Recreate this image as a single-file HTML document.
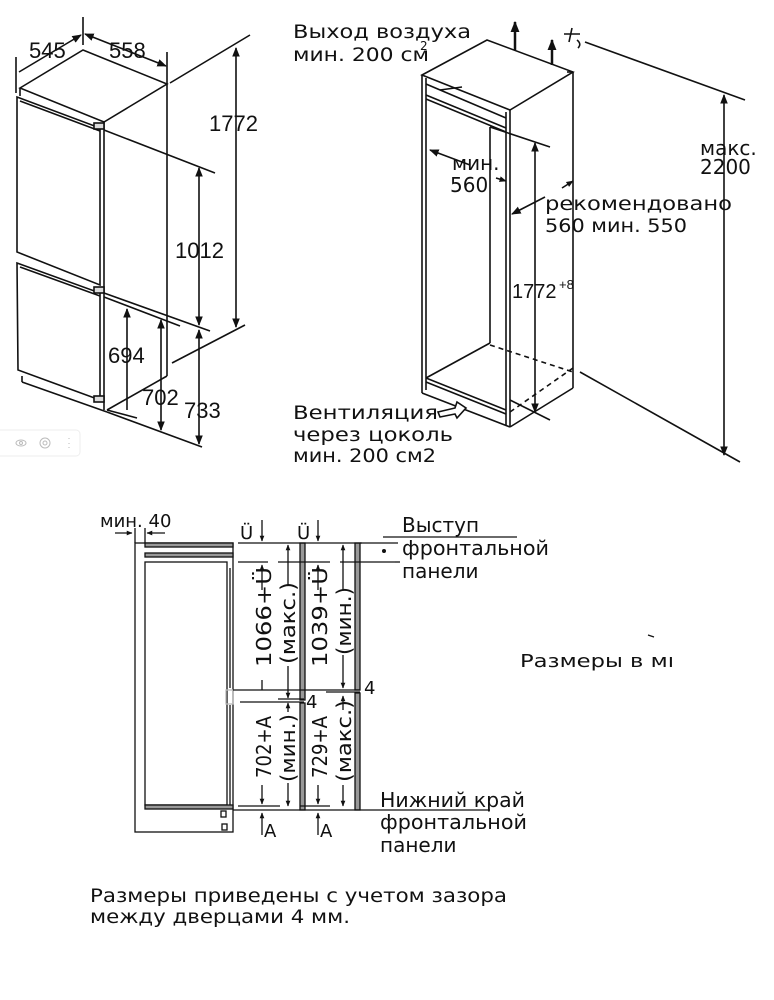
<!DOCTYPE html>
<html><head><meta charset="utf-8"><style>
html,body{margin:0;padding:0;background:#fff;}
svg{display:block;}
.t{font-family:"DejaVu Sans","Liberation Sans",sans-serif;fill:#111;}
.n{font-family:"Liberation Sans",sans-serif;fill:#111;}
</style></head><body>
<svg width="774" height="1000" viewBox="0 0 774 1000" xmlns="http://www.w3.org/2000/svg">
<defs>
<marker id="a" viewBox="0 0 10 10" refX="9" refY="5" markerWidth="6" markerHeight="6" orient="auto-start-reverse"><path d="M0,1 L10,5 L0,9 z" fill="#111"/></marker>
<marker id="s" viewBox="0 0 10 10" refX="9" refY="5" markerWidth="4.5" markerHeight="4.5" orient="auto-start-reverse"><path d="M0,1 L10,5 L0,9 z" fill="#111"/></marker>
</defs>
<g stroke="#111" stroke-width="1.6" fill="none">
<!-- LEFT FRIDGE -->
<line x1="83" y1="17" x2="83" y2="45"/>
<line x1="16" y1="57" x2="16" y2="93"/>
<line x1="167" y1="52" x2="167" y2="84"/>
<line x1="19" y1="72" x2="81" y2="35" marker-end="url(#a)"/>
<line x1="85" y1="34" x2="166" y2="66" marker-end="url(#a)" marker-start="url(#a)"/>
<polygon points="20,88 83,50 167,84 104,122"/>
<line x1="20" y1="88" x2="20" y2="96"/>
<line x1="104" y1="122" x2="104" y2="410"/>
<line x1="167" y1="84" x2="167" y2="376"/>
<line x1="107" y1="410" x2="167" y2="376"/>
<path d="M17,97 L100,128 L100,285 L17,252 Z"/>
<line x1="20" y1="101" x2="100" y2="131"/>
<path d="M17,263 L100,293 L100,400 L18,370 Z"/>
<line x1="20" y1="267" x2="100" y2="296"/>
<line x1="22" y1="376" x2="22" y2="382"/>
<line x1="22" y1="382" x2="107" y2="412"/>
<rect x="94" y="123" width="10" height="6" fill="#ddd"/>
<rect x="94" y="287" width="10" height="6" fill="#ddd"/>
<rect x="94" y="396" width="10" height="6" fill="#ddd"/>
<line x1="170" y1="83" x2="250" y2="35"/>
<line x1="172" y1="363" x2="245" y2="325"/>
<line x1="236" y1="48" x2="236" y2="327" marker-start="url(#a)" marker-end="url(#a)"/>
<line x1="104" y1="130" x2="215" y2="173"/>
<line x1="104" y1="293" x2="210" y2="331"/>
<line x1="199" y1="168" x2="199" y2="325" marker-start="url(#a)" marker-end="url(#a)"/>
<line x1="104" y1="297" x2="180" y2="326"/>
<line x1="127" y1="309" x2="127" y2="410" marker-start="url(#a)"/>
<line x1="161" y1="320" x2="161" y2="430" marker-start="url(#a)" marker-end="url(#a)"/>
<line x1="199" y1="330" x2="199" y2="444" marker-start="url(#a)" marker-end="url(#a)"/>
<line x1="107" y1="410" x2="137" y2="418"/>
<line x1="107" y1="412" x2="202" y2="447"/>
</g>
<g class="n" font-size="22">
<text x="29" y="58">545</text>
<text x="109" y="58">558</text>
<text x="209" y="131">1772</text>
<text x="175" y="258">1012</text>
<text x="108" y="363">694</text>
<text x="142" y="405">702</text>
<text x="184" y="418">733</text>
</g>
<g stroke="#bbb" fill="none" stroke-width="1">
<rect x="-5" y="430" width="85" height="26" rx="4" stroke="#eee"/>
<ellipse cx="21" cy="443" rx="5" ry="3"/><circle cx="21" cy="443" r="1.5"/>
<circle cx="45" cy="443" r="5"/><circle cx="45" cy="443" r="2"/>
<line x1="69" y1="438" x2="69" y2="439"/><line x1="69" y1="443" x2="69" y2="444"/><line x1="69" y1="447" x2="69" y2="448"/>
</g>

<!-- RIGHT CABINET -->
<g stroke="#111" stroke-width="1.6" fill="none">
<polygon points="422,75 487,40 573,72 510,110"/>
<line x1="422" y1="75" x2="422" y2="393"/>
<line x1="426" y1="78" x2="426" y2="390"/>
<line x1="510" y1="110" x2="510" y2="427"/>
<line x1="506" y1="112" x2="506" y2="425"/>
<line x1="573" y1="72" x2="573" y2="388"/>
<line x1="567" y1="72" x2="573" y2="72"/>
<line x1="426" y1="84" x2="506" y2="118"/>
<line x1="426" y1="95" x2="506" y2="128"/>
<line x1="426" y1="99" x2="506" y2="132"/>
<line x1="440" y1="90" x2="462" y2="87"/>
<line x1="490" y1="127" x2="490" y2="343"/>
<line x1="426" y1="378" x2="490" y2="343"/>
<line x1="426" y1="378" x2="506" y2="410"/>
<line x1="426" y1="382" x2="506" y2="414"/>
<line x1="422" y1="393" x2="510" y2="427"/>
<line x1="510" y1="427" x2="573" y2="388"/>
<line x1="510" y1="412" x2="573" y2="368" stroke-dasharray="5,4"/>
<line x1="490" y1="345" x2="573" y2="372" stroke-dasharray="5,4"/>
<line x1="515" y1="50" x2="515" y2="22" stroke-width="2.5" marker-end="url(#s)"/>
<line x1="552" y1="65" x2="552" y2="40" stroke-width="2.5" marker-end="url(#s)"/>
<path d="M564,34 L580,34 M572,28 L569,42 M577,40 Q582,44 578,48"/>
<line x1="585" y1="42" x2="745" y2="100"/>
<line x1="580" y1="372" x2="740" y2="462"/>
<line x1="724" y1="95" x2="724" y2="455" marker-start="url(#a)" marker-end="url(#a)"/>
<line x1="430" y1="150" x2="470" y2="165" marker-start="url(#a)"/>
<line x1="496" y1="178" x2="506" y2="181" marker-end="url(#s)"/>
<line x1="490" y1="127" x2="550" y2="147"/>
<line x1="510" y1="400" x2="550" y2="420"/>
<line x1="535" y1="143" x2="535" y2="412" marker-start="url(#a)" marker-end="url(#a)"/>
<line x1="512" y1="214" x2="545" y2="197" marker-start="url(#a)"/>
<line x1="562" y1="188" x2="573" y2="181" marker-end="url(#s)"/>
<path d="M438,412 L455,408 L457,402 L466,408 L457,418 L455,414 L440,417 Z" fill="#fff"/>
</g>
<g class="t" font-size="19">
<text x="293" y="38" textLength="178" lengthAdjust="spacingAndGlyphs">Выход воздуха</text>
<text x="293" y="61" textLength="136" lengthAdjust="spacingAndGlyphs">мин. 200 см</text>
<text x="420" y="50" font-size="12">2</text>
<text x="452" y="170" font-size="20">мин.</text>
<text x="450" y="192" font-size="20">560</text>
<text x="545" y="210" textLength="187" lengthAdjust="spacingAndGlyphs">рекомендовано</text>
<text x="545" y="232" textLength="142" lengthAdjust="spacingAndGlyphs">560 мин. 550</text>
<text x="700" y="155" font-size="20">макс.</text>
<text x="700" y="174" font-size="20">2200</text>
<text x="293" y="419" textLength="145" lengthAdjust="spacingAndGlyphs">Вентиляция</text>
<text x="293" y="441" textLength="160" lengthAdjust="spacingAndGlyphs">через цоколь</text>
<text x="293" y="462" textLength="143" lengthAdjust="spacingAndGlyphs">мин. 200 см2</text>
</g>
<text class="n" x="512" y="298" font-size="20">1772</text>
<text class="n" x="559" y="289" font-size="13">+8</text>

<!-- BOTTOM DIAGRAM -->
<g stroke="#111" stroke-width="1.3" fill="none">
<line x1="115" y1="533" x2="132" y2="533" marker-end="url(#s)"/>
<line x1="165" y1="533" x2="147" y2="533" marker-end="url(#s)"/>
<line x1="135" y1="528" x2="135" y2="543"/>
<line x1="145" y1="528" x2="145" y2="543"/>
<rect x="135" y="543" width="98" height="289"/>
<rect x="145" y="543" width="88" height="4" fill="#999"/>
<rect x="145" y="553" width="88" height="4" fill="#999"/>
<rect x="145" y="562" width="82" height="243"/>
<rect x="145" y="805" width="88" height="4" fill="#999"/>
<line x1="230" y1="568" x2="230" y2="688"/>
<line x1="230" y1="705" x2="230" y2="805"/>
<rect x="226" y="690" width="7" height="14" stroke="#bbb"/>
<rect x="221" y="811" width="5" height="6"/>
<rect x="222" y="824" width="5" height="6"/>
<rect x="300" y="543" width="5" height="157" fill="#999"/>
<rect x="300" y="703" width="5" height="107" fill="#999"/>
<rect x="355" y="543" width="5" height="147" fill="#999"/>
<rect x="355" y="693" width="5" height="117" fill="#999"/>
<line x1="238" y1="543" x2="362" y2="543"/>
<line x1="238" y1="562" x2="268" y2="562"/><line x1="278" y1="562" x2="330" y2="562"/><line x1="340" y1="562" x2="395" y2="562"/>
<line x1="233" y1="690" x2="360" y2="690"/>
<line x1="326" y1="692" x2="360" y2="692"/>
<line x1="240" y1="702" x2="304" y2="702"/>
<line x1="278" y1="699" x2="304" y2="699"/>
<line x1="238" y1="806" x2="280" y2="806"/><line x1="300" y1="806" x2="330" y2="806"/>
<line x1="233" y1="810" x2="490" y2="810"/>
<line x1="360" y1="543" x2="398" y2="543"/>
<line x1="383" y1="537" x2="517" y2="537"/>
<line x1="395" y1="562" x2="400" y2="562"/>
<line x1="262" y1="520" x2="262" y2="541" marker-end="url(#s)"/>
<line x1="318" y1="520" x2="318" y2="541" marker-end="url(#s)"/>
<line x1="262" y1="565" x2="262" y2="590" marker-start="url(#s)"/>
<line x1="262" y1="680" x2="262" y2="690"/>
<line x1="288" y1="545" x2="288" y2="585" marker-start="url(#s)"/>
<line x1="288" y1="666" x2="288" y2="698" marker-end="url(#s)"/>
<line x1="318" y1="565" x2="318" y2="590" marker-start="url(#s)"/>
<line x1="343" y1="545" x2="343" y2="590" marker-start="url(#s)"/>
<line x1="343" y1="655" x2="343" y2="688" marker-end="url(#s)"/>
<line x1="288" y1="703" x2="288" y2="712" marker-start="url(#s)"/>
<line x1="288" y1="783" x2="288" y2="806" marker-end="url(#s)"/>
<line x1="262" y1="785" x2="262" y2="804" marker-end="url(#s)"/>
<line x1="343" y1="696" x2="343" y2="710" marker-start="url(#s)"/>
<line x1="343" y1="785" x2="343" y2="806" marker-end="url(#s)"/>
<line x1="318" y1="785" x2="318" y2="804" marker-end="url(#s)"/>
<line x1="262" y1="835" x2="262" y2="813" marker-end="url(#s)"/>
<line x1="318" y1="835" x2="318" y2="813" marker-end="url(#s)"/>
<line x1="648" y1="635" x2="654" y2="637"/>
</g>
<circle cx="384" cy="551" r="2" fill="#111"/>
<g class="t" font-size="18">
<text x="100" y="527">мин. 40</text>
<text x="240" y="539">Ü</text>
<text x="297" y="539">Ü</text>
<text x="306" y="708">4</text>
<text x="364" y="694">4</text>
<text x="264" y="837">A</text>
<text x="320" y="837">A</text>
<text x="402" y="532" font-size="20">Выступ</text>
<text x="402" y="555" font-size="20" textLength="147" lengthAdjust="spacingAndGlyphs">фронтальной</text>
<text x="402" y="578" font-size="20">панели</text>
<text x="380" y="807" font-size="20" textLength="145" lengthAdjust="spacingAndGlyphs">Нижний край</text>
<text x="380" y="829" font-size="20" textLength="147" lengthAdjust="spacingAndGlyphs">фронтальной</text>
<text x="380" y="852" font-size="20">панели</text>
<text x="520" y="667" font-size="18" textLength="154" lengthAdjust="spacingAndGlyphs">Размеры в мı</text>
</g>
<g class="t" font-size="20">
<text transform="translate(271,667) rotate(-90)" textLength="100" lengthAdjust="spacingAndGlyphs">1066+Ü</text>
<text transform="translate(295,664) rotate(-90)" textLength="82" lengthAdjust="spacingAndGlyphs">(макс.)</text>
<text transform="translate(327,667) rotate(-90)" textLength="100" lengthAdjust="spacingAndGlyphs">1039+Ü</text>
<text transform="translate(351,655) rotate(-90)" textLength="68" lengthAdjust="spacingAndGlyphs">(мин.)</text>
<text transform="translate(271,778) rotate(-90)" textLength="62" lengthAdjust="spacingAndGlyphs">702+A</text>
<text transform="translate(295,782) rotate(-90)" textLength="68" lengthAdjust="spacingAndGlyphs">(мин.)</text>
<text transform="translate(327,778) rotate(-90)" textLength="62" lengthAdjust="spacingAndGlyphs">729+A</text>
<text transform="translate(351,782) rotate(-90)" textLength="82" lengthAdjust="spacingAndGlyphs">(макс.)</text>
</g>
<g class="t" font-size="19">
<text x="90" y="902" textLength="417" lengthAdjust="spacingAndGlyphs">Размеры приведены с учетом зазора</text>
<text x="90" y="923" textLength="260" lengthAdjust="spacingAndGlyphs">между дверцами 4 мм.</text>
</g>
</svg>
</body></html>
